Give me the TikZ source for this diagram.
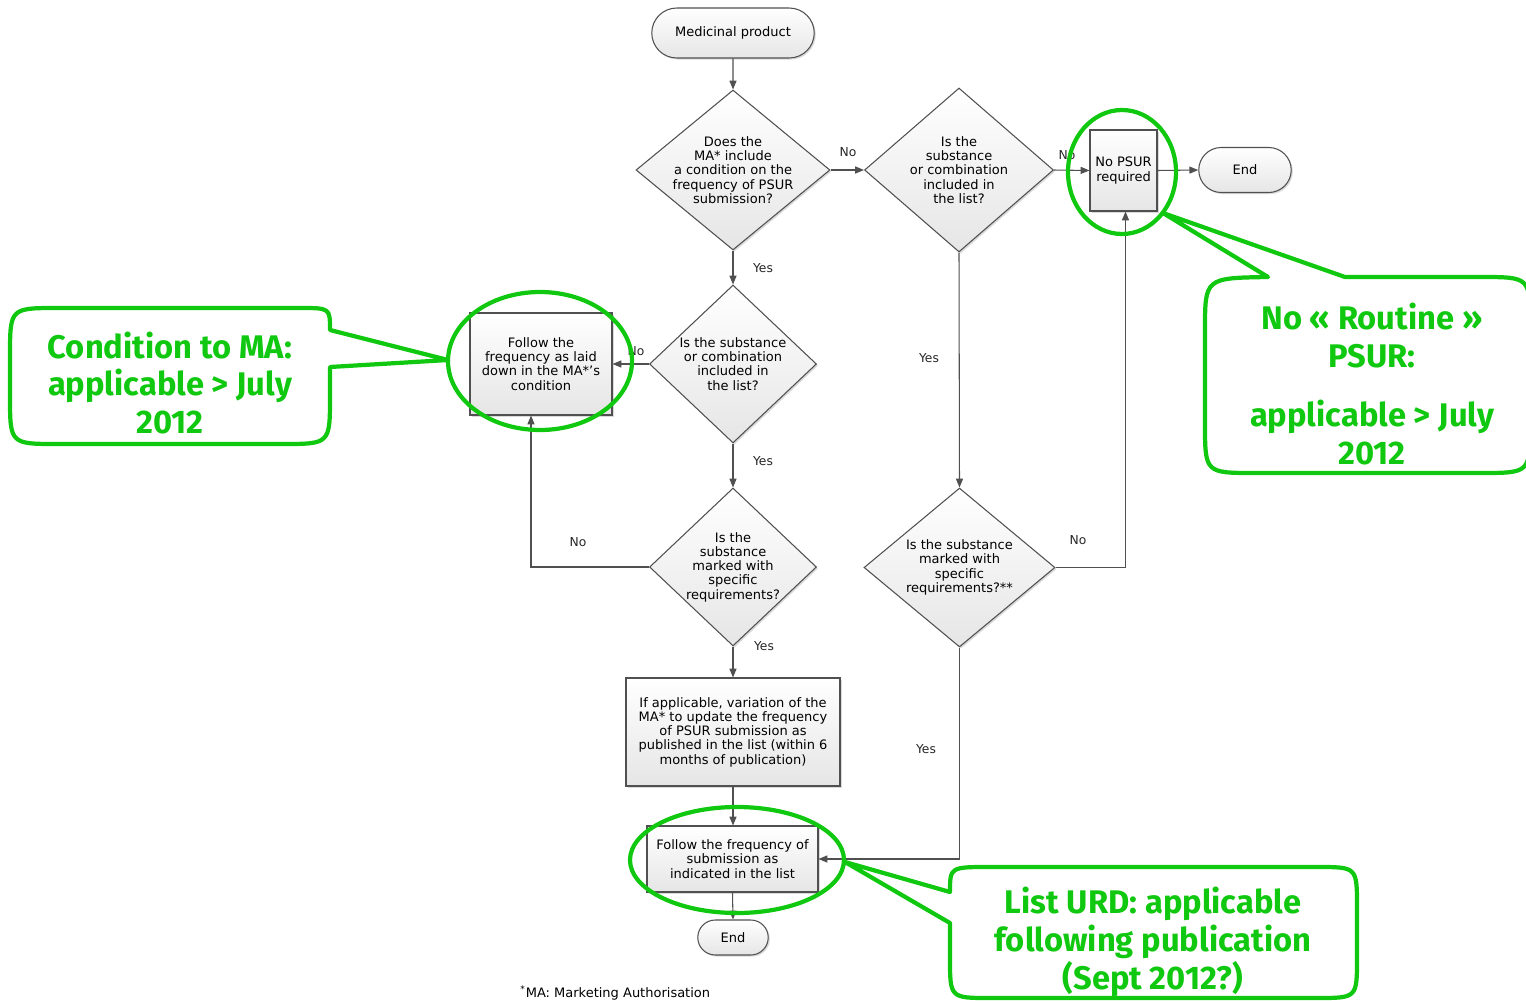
\documentclass[tikz,border=0pt]{standalone}
\usepackage{fontspec}
\setmainfont{DejaVu Sans}
\newfontfamily\gfont{Fira Sans}
\usetikzlibrary{shapes.geometric,shapes.misc,arrows.meta,shadows}
\definecolor{gline}{RGB}{80,80,80}
\definecolor{ggreen}{RGB}{15,200,15}
\tikzset{
 fc/.style={draw=gline, line width=0.6pt, top color=white, bottom color=black!10,
   drop shadow={shadow xshift=0.9pt,shadow yshift=-0.9pt,fill=black,opacity=0.15},
   font=\fontsize{7.4}{8.1}\selectfont, align=center, inner sep=1pt},
 dia/.style={fc, diamond, inner sep=0pt},
 box/.style={fc, rectangle},
 term/.style={fc, rounded rectangle},
 txt/.style={font=\fontsize{7.4}{8.1}\selectfont, align=center, inner sep=0pt},
 lab/.style={font=\fontsize{7}{8}\selectfont, inner sep=0pt, text=black!85},
 arr/.style={draw=gline, line width=0.6pt, -{Triangle[length=5pt,width=4pt]}},
 callout/.style={draw=ggreen, fill=white, line width=2.4pt, line join=round},
 ring/.style={draw=ggreen, line width=2.4pt},
 gtext/.style={text=ggreen, font=\gfont\bfseries\fontsize{18.6}{21.6}\selectfont, align=center, inner sep=0pt},
}
\begin{document}
\begin{tikzpicture}[x=0.02cm,y=-0.02cm]
\useasboundingbox (0,0) rectangle (1526,1001);
\clip (0,0) rectangle (1526,1001);

% nodes
\node[term, minimum width=3.32cm, minimum height=1.0cm] (start) at (733,33) {Medicinal product};
\node[dia, minimum width=3.88cm, minimum height=3.2cm,
  label={[txt]center:Does the\\MA* include\\a condition on the\\frequency of PSUR\\submission?}] (d1) at (733,170) {};
\node[dia, minimum width=3.78cm, minimum height=3.28cm,
  label={[txt]center:Is the\\substance\\or combination\\included in\\the list?}] (d2) at (959,170) {};
\node[box, minimum width=1.34cm, minimum height=1.62cm] (np) at (1123.5,170.5) {No PSUR\\required};
\node[term, minimum width=1.92cm, minimum height=0.9cm] (end1) at (1245,170) {End};
\node[dia, minimum width=3.34cm, minimum height=3.16cm,
  label={[txt]center:Is the substance\\or combination\\included in\\the list?}] (d3) at (733,364) {};
\node[box, minimum width=2.84cm, minimum height=2.04cm] (fol) at (541,364) {Follow the\\frequency as laid\\down in the MA*'s\\condition};
\node[dia, minimum width=3.34cm, minimum height=3.16cm,
  label={[txt]center:Is the\\substance\\marked with\\specific\\requirements?}] (d4) at (733,567) {};
\node[dia, minimum width=3.82cm, minimum height=3.18cm,
  label={[txt]center:Is the substance\\marked with\\specific\\requirements?**}] (d5) at (959.5,567.5) {};
\node[box, minimum width=4.28cm, minimum height=2.16cm] (ifb) at (733,732) {If applicable, variation of the\\MA* to update the frequency\\of PSUR submission as\\published in the list (within 6\\months of publication)};
\node[box, minimum width=3.42cm, minimum height=1.32cm] (f2) at (732.5,859) {Follow the frequency of\\submission as\\indicated in the list};
\node[term, minimum width=1.48cm, minimum height=0.7cm] (end2) at (733,937.5) {End};
\node[txt, anchor=west] (foot) at (520,993) {\textsuperscript{*}MA: Marketing Authorisation};

% connectors
\draw[arr] (start) -- (d1);
\draw[arr] (d1.east) -- (d2.west);
\draw[arr] (d2.east) -- (np.west);
\draw[arr] (np.east) -- (end1.west);
\draw[arr] (d1.south) -- (d3.north);
\draw[arr] (d3.west) -- (fol.east);
\draw[arr] (d3.south) -- (d4.north);
\draw[arr] (d4.west) -| ([xshift=-0.2cm]fol.south);
\draw[arr] (d4.south) -- (ifb.north);
\draw[arr] (d2.south) -- (d5.north);
\draw[arr] (d5.east) -| ([xshift=0.04cm]np.south);
\draw[arr] (d5.south) |- (f2.east);
\draw[arr] (ifb.south) -- (ifb.south |- f2.north);
\draw[arr] (f2.south) -- (end2.north);

% connector labels
\node[lab] (l1) at (848,152) {No};
\node[lab] (l2) at (1067,155) {No};
\node[lab] (l3) at (763,268) {Yes};
\node[lab] (l4) at (636,351) {No};
\node[lab] (l5) at (763,461) {Yes};
\node[lab] (l6) at (578,542) {No};
\node[lab] (l7) at (764,646) {Yes};
\node[lab] (l8) at (929,358) {Yes};
\node[lab] (l9) at (1078,540) {No};
\node[lab] (l10) at (926,749) {Yes};

% green callouts
\draw[callout] (330,367) -- (330,396) .. controls (330,444) .. (282,444) -- (58,444)
  .. controls (10,444) .. (10,396) -- (10,356) .. controls (10,308) .. (58,308)
  -- (300,308) .. controls (330,308) .. (330,330) -- (448,360) -- cycle;
\draw[callout] (1345,277) -- (1480,277) .. controls (1530,277) .. (1530,325) -- (1530,425)
  .. controls (1530,473) .. (1480,473) -- (1255,473) .. controls (1205,473) .. (1205,423)
  -- (1205,330) .. controls (1205,278) .. (1268,277) -- (1163,213) -- cycle;
\draw[callout] (950,923) -- (950,958) .. controls (950,998) .. (990,998) -- (1317,998)
  .. controls (1357,998) .. (1357,958) -- (1357,907) .. controls (1357,867) .. (1317,867)
  -- (990,867) .. controls (950,867) .. (950,892) -- (845,862) -- cycle;

\draw[ring] (1122,172) ellipse [x radius=54, y radius=62];
\draw[ring] (540,361) ellipse [x radius=92, y radius=69];
\draw[ring] (737,860) ellipse [x radius=107, y radius=53];

\node[gtext] (t1) at (170,383) {Condition to MA:\\applicable {>} July\\2012};
\node[gtext] (t2) at (1372,384) {No « Routine »\\PSUR:\\[12pt]applicable {>} July\\2012};
\node[gtext] (t3) at (1153,942) {List URD: applicable\\following publication\\(Sept 2012?)};
\end{tikzpicture}
\end{document}
